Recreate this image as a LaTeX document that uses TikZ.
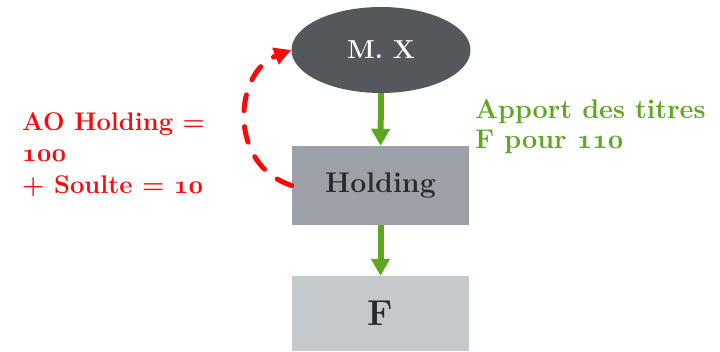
\RequirePackage{fix-cm}
\documentclass[tikz,border=0pt]{standalone}
\usetikzlibrary{arrows.meta,shapes.geometric}
\definecolor{ellgray}{RGB}{84,88,92}
\definecolor{holdgray}{RGB}{155,161,167}
\definecolor{fgray}{RGB}{197,201,203}
\definecolor{darktext}{RGB}{40,43,46}
\definecolor{flowgreen}{RGB}{92,166,32}
\definecolor{loopred}{RGB}{250,10,10}
% old-style figures from bold math italic, at the current size
\newcommand{\oldfig}[1]{{\fontencoding{OML}\fontfamily{cmm}\fontseries{b}\fontshape{it}\selectfont #1}}
\begin{document}
\begin{tikzpicture}[x=1pt,y=-1pt,
  boxtext/.style={font=\fontsize{28.5}{30}\selectfont\bfseries, text=darktext},
  entity/.style={rectangle, inner sep=0pt, minimum width=177pt},
  greenarrow/.style={draw=flowgreen, line width=6pt,
    -{Triangle[width=18pt,length=17pt]}},
  redloop/.style={draw=loopred, line width=5pt, line cap=round,
    dash pattern=on 16pt off 16pt,
    -{Triangle[width=17pt,length=17pt]}},
  note/.style={anchor=north west, align=left, inner sep=0pt}]
\useasboundingbox (0,0) rectangle (720,351);

% owner and companies
\node[ellipse, fill=ellgray, inner sep=0pt, minimum width=179pt,
      minimum height=86pt, font=\fontsize{26}{30}\selectfont\bfseries,
      text=white] (mx) at (381,50) {M. X};
\node[entity, fill=holdgray, minimum height=79pt, boxtext]
      (hold) at (380.5,185.5) {Holding};
\node[entity, fill=fgray, minimum height=75pt,
      font=\fontsize{36}{40}\selectfont\bfseries, text=darktext]
      (fco) at (380.5,313.5) {F};

% share contributions
\draw[greenarrow] (mx.south) -- (hold.north);
\draw[greenarrow] (hold.south) -- (fco.north);

% consideration paid back to M. X
\draw[redloop] (hold.west) .. controls (227,165) and (234,72) .. (mx.west);

% annotations
\node[note, font=\fontsize{25.5}{31.5}\selectfont\bfseries, text=loopred]
  (pay) at (22,112) {AO Holding =\\ \oldfig{100}\\ + Soulte = \oldfig{10}};
\node[note, font=\fontsize{27}{30}\selectfont\bfseries, text=flowgreen]
  (contrib) at (475,99) {Apport des titres\\ F pour \oldfig{110}};
\end{tikzpicture}
\end{document}
